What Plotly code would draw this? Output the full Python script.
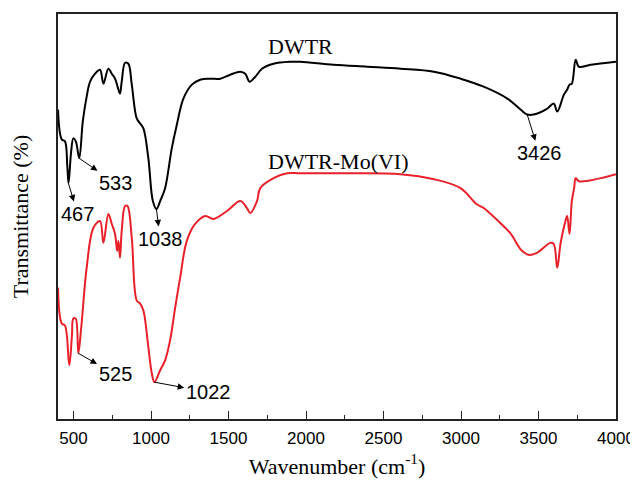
import plotly.graph_objects as go

# DWTR (black) spectrum: wavenumber (cm-1) and transmittance (arbitrary units)
dwtr_wn = [400, 424, 445, 460, 468, 485, 499, 515, 537, 560, 585, 607, 639, 671, 693, 725, 747, 768, 790, 800,
           811, 833, 854, 876, 908, 930, 951, 983, 1012, 1035, 1059, 1091, 1134, 1167, 1209, 1264, 1317, 1382,
           1447, 1511, 1576, 1608, 1636, 1673, 1716, 1791, 1899, 1963, 2177, 2394, 2609, 2825, 2997, 3146, 3299,
           3384, 3427, 3469, 3557, 3598, 3621, 3664, 3685, 3700, 3715, 3740, 3761, 3837, 4000]
dwtr_t = [311, 281, 279, 254, 237, 269, 282, 279, 262, 299, 324, 339, 347, 351, 337, 352, 347, 342, 331, 327,
          339, 358, 357, 336, 302, 297, 292, 262, 219, 211, 219, 232, 272, 296, 322, 336, 341, 342,
          342, 346, 349, 347, 339, 344, 352, 357, 359, 359, 356, 354, 352, 349, 342, 334, 322,
          311, 306, 306, 312, 317, 309, 326, 331, 336, 337, 361, 354, 356, 359]

# DWTR-Mo(VI) (red) spectrum
mo_wn = [400, 424, 445, 473, 490, 499, 514, 531, 550, 585, 628, 671, 693, 725, 747, 768, 782, 790, 800, 811,
         833, 848, 876, 908, 930, 951, 983, 1005, 1022, 1059, 1091, 1123, 1156, 1188, 1231, 1285, 1350, 1403,
         1490, 1576, 1619, 1640, 1684, 1705, 1791, 1878, 1963, 2286, 2609, 2825, 2997, 3100, 3146, 3253, 3317,
         3393, 3436, 3490, 3576, 3598, 3621, 3642, 3674, 3685, 3700, 3715, 3730, 3740, 3761, 4000]
mo_t = [132, 96, 94, 54, 84, 101, 101, 66, 92, 152, 192, 199, 177, 206, 196, 186, 169, 179, 162, 189,
        214, 214, 182, 119, 116, 109, 72, 46, 37, 49, 59, 79, 112, 142, 179, 196, 204, 201,
        209, 219, 212, 207, 219, 232, 242, 247, 247, 247, 246, 241, 232, 216, 212, 197, 187,
        169, 165, 167, 177, 176, 152, 176, 199, 204, 186, 219, 232, 242, 239, 246]

x_ticks = [500, 1000, 1500, 2000, 2500, 3000, 3500, 4000]
x_minor_ticks = [750, 1250, 1750, 2250, 2750, 3250, 3750]

# peak annotations: label, curve point (arrow tail), label centre (arrow head end)
peak_labels = ["467", "533", "1038", "3426", "525", "1022"]
peak_tail_x = [467, 537, 1035, 3427, 531, 1022]
peak_tail_y = [237, 262, 211, 306, 66, 37]
peak_text_x = [527, 771, 1059, 3505, 768, 1369]
peak_text_y = [206, 237, 181, 267, 45, 27]

series_names = ["DWTR", "DWTR-Mo(VI)"]
series_label_x = [1963, 2212]
series_label_y = [374, 259]

fig = go.Figure()
fig.add_trace(go.Scatter(x=dwtr_wn, y=dwtr_t, mode="lines", name="DWTR",
                         line=dict(color="black", width=2), line_shape="spline"))
fig.add_trace(go.Scatter(x=mo_wn, y=mo_t, mode="lines", name="DWTR-Mo(VI)",
                         line=dict(color="#e8202a", width=2), line_shape="spline"))

for lab, tx, ty, lx, ly in zip(peak_labels, peak_tail_x, peak_tail_y, peak_text_x, peak_text_y):
    fig.add_annotation(x=tx, y=ty, ax=lx, ay=ly, xref="x", yref="y", axref="x", ayref="y",
                       text=lab, showarrow=True, arrowside="start", startarrowhead=2,
                       startarrowsize=1.3, arrowwidth=1, arrowcolor="black", standoff=0, startstandoff=0,
                       font=dict(family="Liberation Sans, Arial", size=20, color="black"))

for name, lx, ly in zip(series_names, series_label_x, series_label_y):
    fig.add_annotation(x=lx, y=ly, text=name, showarrow=False,
                       font=dict(family="Liberation Serif, Times New Roman", size=22, color="black"))

# the page body has an 8px default margin; margins compensate so the plot box
# lands where it is in the reference
fig.update_layout(
    width=638, height=482,
    margin=dict(l=50, r=30, t=4, b=71),
    paper_bgcolor="white", plot_bgcolor="white",
    showlegend=False,
    xaxis=dict(range=[400, 4000], tickvals=x_ticks, ticks="inside", ticklen=8, tickwidth=1.2,
               tickcolor="#222", showgrid=False, zeroline=False, ticklabelstandoff=3,
               showline=True, linecolor="#222", linewidth=1.5, mirror=True,
               minor=dict(tickvals=x_minor_ticks, ticks="inside",
                          ticklen=4, tickcolor="#222", tickwidth=1.2),
               tickfont=dict(family="Liberation Sans, Arial", size=17, color="black"),
               title=dict(text="Wavenumber (cm<sup>-1</sup>)", standoff=11,
                          font=dict(family="Liberation Serif, Times New Roman", size=22, color="black"))),
    yaxis=dict(range=[0, 407], showticklabels=False, ticks="", showgrid=False, zeroline=False,
               showline=True, linecolor="#222", linewidth=1.5, mirror=True,
               title=dict(text="Transmittance (%)", standoff=28,
                          font=dict(family="Liberation Serif, Times New Roman", size=22, color="black"))),
)

fig.write_html("out.html")
